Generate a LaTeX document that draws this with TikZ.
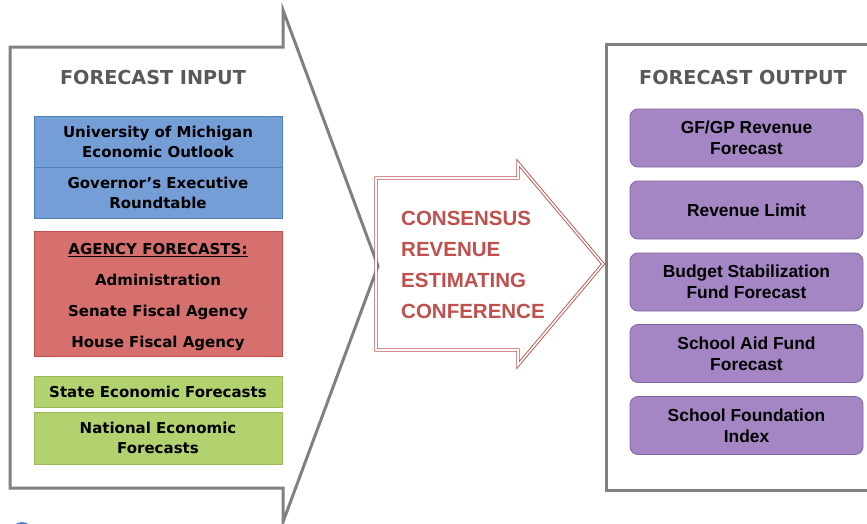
\documentclass[tikz,border=0pt]{standalone}
\usepackage{fontspec}
\setmainfont{Liberation Sans}
\newfontfamily\tah{DejaVu Sans}
\definecolor{bdgray}{RGB}{128,128,128}
\definecolor{ttlgray}{RGB}{89,89,89}
\definecolor{bluefill}{RGB}{118,158,214}
\definecolor{bluebd}{RGB}{79,129,189}
\definecolor{redfill}{RGB}{214,112,110}
\definecolor{redbd}{RGB}{192,80,77}
\definecolor{greenfill}{RGB}{178,210,112}
\definecolor{greenbd}{RGB}{155,187,89}
\definecolor{purpfill}{RGB}{164,134,196}
\definecolor{purpbd}{RGB}{128,100,162}
\definecolor{constext}{RGB}{192,80,77}
\definecolor{logoblue}{RGB}{70,130,200}
\begin{document}
\begin{tikzpicture}[x=1pt,y=-1pt,
  grayframe/.style={draw=bdgray,line width=3pt,line join=miter},
  title/.style={font=\tah\bfseries\fontsize{19.2}{22}\selectfont,text=ttlgray},
  inbox/.style={draw=#1bd,fill=#1fill,line width=0.8pt,minimum width=248pt,inner sep=0pt,
    align=center,font=\tah\bfseries\fontsize{15}{20}\selectfont},
  outbox/.style={draw=purpbd,fill=purpfill,line width=0.8pt,rounded corners=8pt,
    minimum width=233pt,minimum height=58pt,inner sep=0pt,align=center,
    font=\bfseries\fontsize{17.4}{21}\selectfont},
  bigarrow/.style={draw=redbd,double=white,line width=0.9pt,double distance=1.6pt,line join=miter}
]
\useasboundingbox (0,0) rectangle (867,523);
\clip (0,0) rectangle (867,523);
% left frame arrow
\draw[grayframe] (10,47) -- (283,47) -- (283,10) -- (378,266) -- (283,522) -- (283,488) -- (10,488) -- cycle;
% right frame
\draw[grayframe] (606,44) rectangle (885,490);
% logo fragment
\fill[logoblue] (22,533) circle (11);
% titles
\node[title] (tin) at (153,78) {FORECAST INPUT};
\node[title] (tout) at (743,78) {FORECAST OUTPUT};
% input boxes
\node[inbox=blue,minimum height=51pt] (b1) at (158,141.5) {University of Michigan\\Economic Outlook};
\node[inbox=blue,minimum height=51pt] (b2) at (158,192.5) {Governor’s Executive\\Roundtable};
\node[inbox=red,minimum height=125pt] (r1) at (158,293.5) {};
\node[align=center,inner sep=0pt,font=\tah\bfseries\fontsize{15}{31}\selectfont] (r1t) at (158,297)
  {\underline{AGENCY FORECASTS:}\\Administration\\Senate Fiscal Agency\\House Fiscal Agency};
\node[inbox=green,minimum height=31pt] (g1) at (158,391.5) {State Economic Forecasts};
\node[inbox=green,minimum height=52pt] (g2) at (158,438) {National Economic\\Forecasts};
% middle arrow
\draw[bigarrow] (376,178) -- (518,178) -- (518,163) -- (603,264) -- (518,365) -- (518,350) -- (376,350) -- cycle;
\node[anchor=west,align=left,inner sep=0pt,text=constext,font=\bfseries\fontsize{20.5}{31}\selectfont] (cons) at (401,265)
  {CONSENSUS\\REVENUE\\ESTIMATING\\CONFERENCE};
% output boxes
\node[outbox] (o1) at (746.5,138) {GF/GP Revenue\\Forecast};
\node[outbox] (o2) at (746.5,210) {Revenue Limit};
\node[outbox] (o3) at (746.5,282) {Budget Stabilization\\Fund Forecast};
\node[outbox] (o4) at (746.5,353.5) {School Aid Fund\\Forecast};
\node[outbox] (o5) at (746.5,425.5) {School Foundation\\Index};
\end{tikzpicture}
\end{document}
